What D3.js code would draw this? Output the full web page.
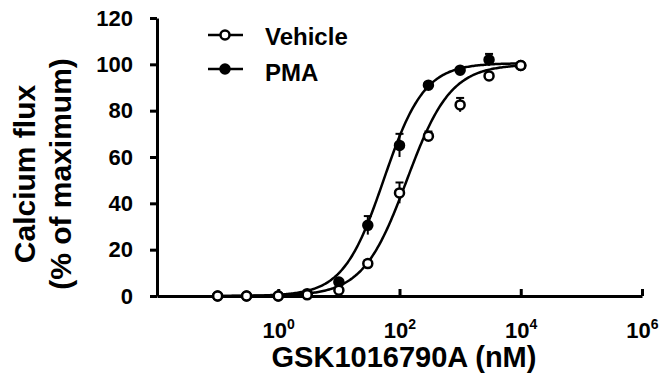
<!DOCTYPE html>
<html>
<head>
<meta charset="utf-8">
<script src="https://cdn.jsdelivr.net/npm/d3@7"></script>
<style>
  body { margin: 0; background: #fff; }
  svg { display: block; font-family: "Liberation Sans", Arial, sans-serif; font-weight: bold; }
</style>
</head>
<body>
<div id="chart"></div>
<script>
// Concentrations (nM) and responses
var conc = [0.1, 0.3, 1, 3, 10, 30, 100, 300, 1000, 3000, 10000];
var vehicleVals = [0, 0, 0, 0.5, 2.5, 14, 44.5, 69, 82.5, 95, 99.5];
var vehicleErr  = [0, 0, 0, 0, 3, 1.5, 4.5, 2, 3, 1, 0.5];
var pmaVals = [0, 0, 0, 1, 6, 30.5, 65, 91, 97.5, 102, 99.5];
var pmaErr  = [0, 0, 0, 0, 1, 4, 5, 1, 1, 2.5, 0.5];

// Fitted sigmoid (top, bottom, EC50 nM, Hill slope) as shown by the curves
var vehicleFit = [100, 0, 132, 1.2];
var pmaFit = [100.5, 0, 55, 1.3];

var seriesNames = ["Vehicle", "PMA"];
var yTicks = [0, 20, 40, 60, 80, 100, 120];
var xTicks = [1, 100, 10000, 1000000];

var W = 662, H = 376;

var svg = d3.select("#chart")
  .append("svg")
  .attr("width", W)
  .attr("height", H);

// Scales
var x = d3.scaleLog().domain([1e-2, 1e6]).range([157, 642]);
var y = d3.scaleLinear().domain([0, 120]).range([296, 18]);

// Y axis
var yAxis = svg.append("g")
  .attr("transform", "translate(157,0)")
  .call(d3.axisLeft(y).tickValues(yTicks).tickSizeInner(7).tickSizeOuter(0).tickPadding(17));
yAxis.select(".domain").attr("stroke-width", 3);
yAxis.selectAll(".tick line").attr("stroke-width", 3);
yAxis.selectAll(".tick text")
  .attr("font-size", 22)
  .attr("font-family", "Liberation Sans, Arial, sans-serif")
  .attr("font-weight", "bold")
  .attr("fill", "#000");

// X axis, ticks point inward
var xAxis = svg.append("g")
  .attr("transform", "translate(0,296)")
  .call(d3.axisBottom(x).tickValues(xTicks).tickSizeInner(-7).tickSizeOuter(0).tickFormat(""));
xAxis.select(".domain").attr("stroke-width", 3);
xAxis.selectAll(".tick line").attr("stroke-width", 3);
xAxis.selectAll(".tick text").each(function (d) {
  var t = d3.select(this)
    .attr("y", 42).attr("dy", null)
    .attr("font-size", 22)
    .attr("font-family", "Liberation Sans, Arial, sans-serif")
    .attr("font-weight", "bold")
    .attr("fill", "#000")
    .text("10");
  t.append("tspan")
    .attr("font-size", 14)
    .attr("dy", -9)
    .text(Math.round(Math.log10(d)));
});

// Axis titles
svg.append("text")
  .attr("x", 404).attr("y", 367)
  .attr("text-anchor", "middle")
  .attr("font-size", 29)
  .text("GSK1016790A (nM)");

svg.append("text")
  .attr("transform", "translate(35,174) rotate(-90)")
  .attr("text-anchor", "middle")
  .attr("font-size", 30)
  .text("Calcium flux");

svg.append("text")
  .attr("transform", "translate(71,174) rotate(-90)")
  .attr("text-anchor", "middle")
  .attr("font-size", 30)
  .text("(% of maximum)");

// Fitted curves
function hill(p, c) {
  return p[1] + (p[0] - p[1]) / (1 + Math.pow(p[2] / c, p[3]));
}
var line = d3.line()
  .x(function (d) { return x(d); })
  .curve(d3.curveLinear);

var curveX = d3.range(Math.log10(conc[0]), Math.log10(conc[conc.length - 1]) + 0.001, 0.02)
  .map(function (e) { return Math.pow(10, e); });

[[pmaFit], [vehicleFit]].forEach(function (f) {
  svg.append("path")
    .datum(curveX)
    .attr("fill", "none")
    .attr("stroke", "#000")
    .attr("stroke-width", 2.5)
    .attr("d", line.y(function (d) { return y(Math.max(0, hill(f[0], d))); }));
});

// Error bars and points
function drawSeries(vals, errs, filled) {
  var data = conc.map(function (c, i) { return { c: c, v: vals[i], e: errs[i] }; });
  var g = svg.append("g");
  var eb = g.selectAll(".eb").data(data.filter(function (d) { return d.e > 0; })).enter().append("g");
  eb.append("line")
    .attr("x1", function (d) { return x(d.c); })
    .attr("x2", function (d) { return x(d.c); })
    .attr("y1", function (d) { return y(d.v - d.e); })
    .attr("y2", function (d) { return y(d.v + d.e); })
    .attr("stroke", "#000").attr("stroke-width", 2);
  eb.append("line")
    .attr("x1", function (d) { return x(d.c) - 4; })
    .attr("x2", function (d) { return x(d.c) + 4; })
    .attr("y1", function (d) { return y(d.v + d.e); })
    .attr("y2", function (d) { return y(d.v + d.e); })
    .attr("stroke", "#000").attr("stroke-width", 2);
  g.selectAll("circle").data(data).enter().append("circle")
    .attr("cx", function (d) { return x(d.c); })
    .attr("cy", function (d) { return y(d.v); })
    .attr("r", 4.5)
    .attr("fill", filled ? "#000" : "#fff")
    .attr("stroke", "#000")
    .attr("stroke-width", 2.5);
}
drawSeries(pmaVals, pmaErr, true);
drawSeries(vehicleVals, vehicleErr, false);

// Legend
var legend = svg.append("g");
seriesNames.forEach(function (name, i) {
  var ly = [35, 69][i];
  legend.append("line")
    .attr("x1", 208).attr("x2", 243)
    .attr("y1", ly).attr("y2", ly)
    .attr("stroke", "#000").attr("stroke-width", 2.5);
  legend.append("circle")
    .attr("cx", 225).attr("cy", ly).attr("r", 4.5)
    .attr("fill", i === 0 ? "#fff" : "#000")
    .attr("stroke", "#000").attr("stroke-width", 2.5);
  legend.append("text")
    .attr("x", 265).attr("y", [45, 81][i])
    .attr("font-size", 24)
    .text(name);
});
</script>
</body>
</html>
